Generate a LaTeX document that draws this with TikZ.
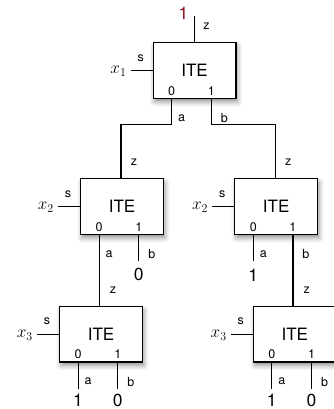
\documentclass[tikz,border=0pt]{standalone}
\usepackage[no-math]{fontspec}
\setmainfont{TeX Gyre Heros}
\usetikzlibrary{shadows.blur}
\definecolor{darkred}{RGB}{140,20,30}
\newcommand\gate[4]{%
  \node[ite] (#1) at (#2,#3) {ITE};
  \coordinate (#1-p0) at ([xshift=19pt]#1.south west);
  \coordinate (#1-p1) at ([xshift=58.7pt]#1.south west);
  \coordinate (#1-in) at ([xshift=-22pt]#1.west);
  \draw[wire] (#1-in) -- (#1.west);
  \node[pinlbl] (#1-s) at ([xshift=-12pt,yshift=12.5pt]#1.west) {s};
  \node[pinlbl] (#1-z) at ([xshift=12pt,yshift=16pt]#1.north) {z};
  \node[varlbl] (#1-var) at ([xshift=-4pt,yshift=-1pt]#1-in) {$#4$};
  \node[pinlbl] (#1-l0) at ([yshift=8pt]#1-p0) {0};
  \node[pinlbl] (#1-l1) at ([yshift=8pt]#1-p1) {1};
  \node[pinlbl] (#1-a) at ([xshift=10pt,yshift=-19pt]#1-p0) {a};
  \node[pinlbl] (#1-b) at ([xshift=13pt,yshift=-19pt]#1-p1) {b};
}
\begin{document}
\begin{tikzpicture}[x=1pt,y=-1pt,
  ite/.style={draw,line width=1.2pt,fill=white,minimum width=82.7pt,minimum height=55.5pt,inner sep=0pt,
    font=\fontsize{17}{20}\selectfont,
    blur shadow={shadow xshift=1.5pt,shadow yshift=-3.5pt,shadow blur radius=5pt,shadow opacity=45}},
  wire/.style={line width=1.1pt},
  pinlbl/.style={font=\fontsize{12.5}{14}\selectfont,inner sep=0pt},
  biglbl/.style={font=\fontsize{17.5}{20}\selectfont,inner sep=0pt},
  varlbl/.style={font=\fontsize{18}{20}\selectfont,inner sep=0pt,anchor=east}]
\useasboundingbox (0,0) rectangle (334,409);

\gate{g1}{194.6}{70.5}{x_1}
\gate{g2}{122}{206.5}{x_2}
\gate{g3}{276.2}{206.5}{x_2}
\gate{g4}{101}{334.2}{x_3}
\gate{g5}{294.8}{334.2}{x_3}

% top output
\coordinate (top) at ([yshift=26pt]g1.north);
\draw[wire] (top) -- (g1.north);
\node[biglbl,text=darkred] (one) at ([xshift=-11pt,yshift=3pt]top) {1};

% tree connections
\draw[wire] (g1-p0) -- ++(0,25.7) -| ([xshift=-1pt]g2.north);
\draw[wire] (g1-p1) -- ++(0,25.7) -| ([xshift=-1pt]g3.north);
\draw[wire] (g2-p0) -- (g2-p0 |- g4.north);
\draw[wire] (g3-p1) -- (g3-p1 |- g5.north);

% leaves
\coordinate (g2-leaf1) at ([yshift=-26pt]g2-p1);
\draw[wire] (g2-p1) -- (g2-leaf1);
\node[biglbl] (v21) at ([yshift=-14pt]g2-leaf1) {0};

\coordinate (g3-leaf0) at ([yshift=-26pt]g3-p0);
\draw[wire] (g3-p0) -- (g3-leaf0);
\node[biglbl] (v30) at ([yshift=-14pt]g3-leaf0) {1};

\coordinate (g4-leaf0) at ([yshift=-26pt]g4-p0);
\coordinate (g4-leaf1) at ([yshift=-26pt]g4-p1);
\draw[wire] (g4-p0) -- (g4-leaf0);
\draw[wire] (g4-p1) -- (g4-leaf1);
\node[biglbl] (v40) at ([yshift=-12pt]g4-leaf0) {1};
\node[biglbl] (v41) at ([yshift=-12pt]g4-leaf1) {0};

\coordinate (g5-leaf0) at ([yshift=-26pt]g5-p0);
\coordinate (g5-leaf1) at ([yshift=-26pt]g5-p1);
\draw[wire] (g5-p0) -- (g5-leaf0);
\draw[wire] (g5-p1) -- (g5-leaf1);
\node[biglbl] (v50) at ([yshift=-12pt]g5-leaf0) {1};
\node[biglbl] (v51) at ([yshift=-12pt]g5-leaf1) {0};
\end{tikzpicture}
\end{document}
